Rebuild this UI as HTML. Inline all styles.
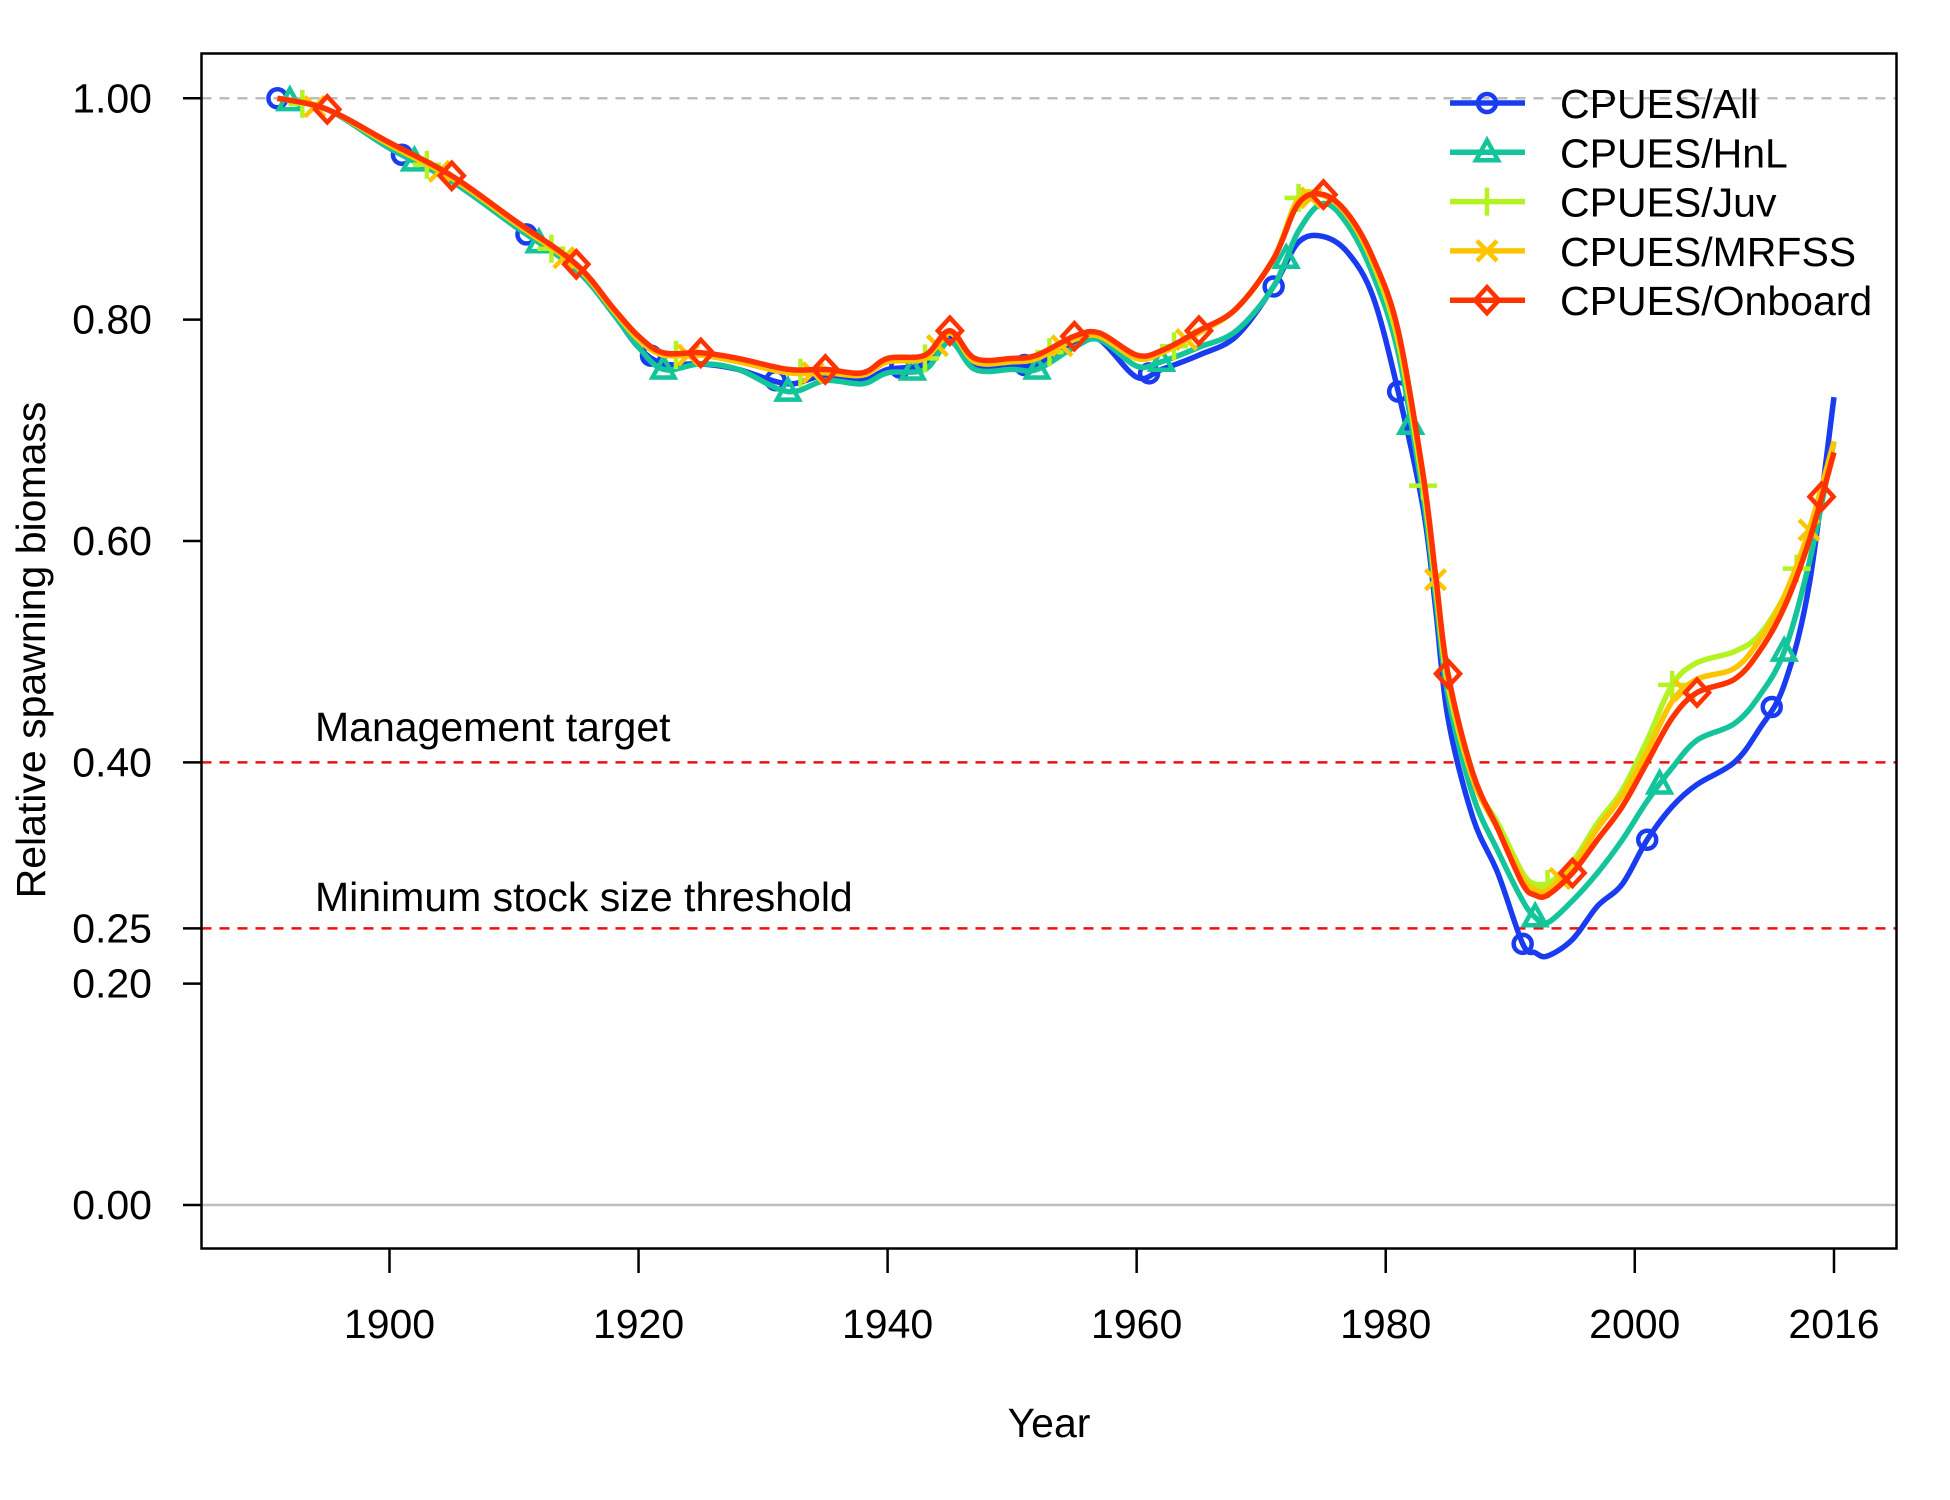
<!DOCTYPE html>
<html><head><meta charset="utf-8"><style>
html,body{margin:0;padding:0;background:#fff;}
svg{display:block;font-family:"Liberation Sans",Arial,sans-serif;}
</style></head><body>
<svg id="chart" width="1950" height="1500" viewBox="0 0 1950 1500" xmlns="http://www.w3.org/2000/svg">
<rect width="1950" height="1500" fill="#fff"/>
<g id="grid"></g>
<g id="series"></g>
<rect x="201.5" y="53.5" width="1695" height="1195" fill="none" stroke="#000" stroke-width="2.5"/>
<g id="axes"></g>
<text x="1049" y="1437" font-size="41" text-anchor="middle">Year</text>
<text transform="translate(45,650) rotate(-90)" font-size="41" text-anchor="middle">Relative spawning biomass</text>
<text x="315" y="741" font-size="41">Management target</text>
<text x="315" y="911" font-size="41">Minimum stock size threshold</text>
<g id="legend"></g>
</svg>
<script>
const years=[1891,1895,1900,1905,1910,1915,1918,1920,1922,1925,1928,1932,1935,1938,1940,1943,1945,1947,1950,1952,1955,1957,1960,1962,1965,1968,1971,1973,1975,1977,1979,1981,1983,1984,1985,1987,1989,1991,1992,1993,1995,1997,1999,2001,2003,2005,2008,2010,2012,2014,2016];
const seriesNames=["CPUES/All","CPUES/HnL","CPUES/Juv","CPUES/MRFSS","CPUES/Onboard"];
const valsAll=[1.0,.99,.955,.925,.885,.845,.805,.775,.76,.76,.755,.742,.75,.745,.755,.76,.785,.758,.758,.76,.78,.782,.748,.755,.768,.785,.83,.87,.875,.86,.82,.735,.63,.54,.44,.35,.30,.236,.228,.225,.24,.27,.29,.33,.36,.38,.40,.43,.47,.56,.73];
const valsHnL=[1.0,.99,.955,.925,.885,.845,.805,.775,.755,.76,.755,.735,.745,.742,.752,.755,.78,.755,.755,.755,.775,.782,.758,.762,.775,.79,.83,.88,.905,.885,.84,.77,.64,.55,.46,.37,.32,.275,.26,.255,.275,.30,.33,.365,.395,.42,.435,.46,.50,.58,.69];
const valsJuv=[1.0,.99,.958,.928,.888,.848,.808,.782,.768,.768,.762,.752,.752,.75,.762,.765,.788,.762,.762,.765,.782,.785,.765,.77,.788,.81,.855,.91,.912,.893,.85,.78,.65,.56,.47,.385,.345,.30,.29,.29,.31,.345,.375,.42,.47,.49,.50,.515,.55,.60,.69];
const valsMRFSS=[1.0,.99,.958,.928,.888,.848,.808,.782,.768,.768,.762,.752,.752,.75,.762,.765,.788,.762,.762,.765,.782,.785,.765,.77,.788,.81,.855,.908,.912,.893,.852,.785,.655,.565,.475,.385,.34,.295,.285,.285,.305,.34,.37,.41,.455,.475,.485,.51,.55,.61,.69];
const valsOnboard=[1.0,.99,.96,.93,.89,.85,.81,.785,.77,.77,.765,.755,.755,.752,.765,.768,.79,.765,.765,.768,.785,.788,.768,.772,.79,.81,.855,.905,.913,.895,.855,.79,.66,.57,.48,.39,.34,.29,.28,.28,.30,.33,.36,.40,.44,.463,.475,.50,.54,.60,.68];
const xTicks=[1900,1920,1940,1960,1980,2000,2016];
const yTicks=[0,0.2,0.25,0.4,0.6,0.8,1.0];
const yTickLabels=["0.00","0.20","0.25","0.40","0.60","0.80","1.00"];
const refLines=[0.4,0.25];

const NS="http://www.w3.org/2000/svg";
const X=y=>389.5+(y-1900)*(1834-389.5)/116;
const Y=v=>1205-v*(1205-98.3);
function mk(tag,attrs,parent){const e=document.createElementNS(NS,tag);for(const k in attrs)e.setAttribute(k,attrs[k]);parent.appendChild(e);return e;}
const grid=document.getElementById('grid'),axes=document.getElementById('axes'),sg=document.getElementById('series'),lg=document.getElementById('legend');

let l=mk('line',{x1:201.5,x2:1896.5,y1:Y(1),y2:Y(1),stroke:'#bdbdbd','stroke-width':2.5,'stroke-dasharray':'10,8'},grid);


l=mk('line',{x1:201.5,x2:1896.5,y1:Y(0),y2:Y(0),stroke:'#bdbdbd','stroke-width':2.5},grid);


refLines.forEach(r=>{const e=mk('line',{x1:201.5,x2:1896.5,y1:Y(r),y2:Y(r),stroke:'#ee1111','stroke-width':2.5,'stroke-dasharray':'10,8'},grid);

});

yTicks.forEach((t,i)=>{const g=mk('g',{},axes);


mk('line',{x1:183,x2:201.5,y1:Y(t),y2:Y(t),stroke:'#000','stroke-width':2.5},g);
const tx=mk('text',{x:152,y:Y(t)+14,'font-size':41,'text-anchor':'end'},g);tx.textContent=yTickLabels[i];});
xTicks.forEach(t=>{const g=mk('g',{},axes);


mk('line',{x1:X(t),x2:X(t),y1:1248.5,y2:1273,stroke:'#000','stroke-width':2.5},g);
const tx=mk('text',{x:X(t),y:1338,'font-size':41,'text-anchor':'middle'},g);tx.textContent=String(t);});

const colors=["#1a3cf0","#14c49a","#b4f222","#ffc400","#ff3300"];
const data=[valsAll,valsHnL,valsJuv,valsMRFSS,valsOnboard];
function smooth(pts){let d=`M${pts[0][0]},${pts[0][1]}`;for(let i=0;i<pts.length-1;i++){const p0=pts[Math.max(i-1,0)],p1=pts[i],p2=pts[i+1],p3=pts[Math.min(i+2,pts.length-1)];
const c1=[p1[0]+(p2[0]-p0[0])/6,p1[1]+(p2[1]-p0[1])/6],c2=[p2[0]-(p3[0]-p1[0])/6,p2[1]-(p3[1]-p1[1])/6];
d+=` C${c1[0].toFixed(1)},${c1[1].toFixed(1)} ${c2[0].toFixed(1)},${c2[1].toFixed(1)} ${p2[0].toFixed(1)},${p2[1].toFixed(1)}`;}return d;}
function interp(vals,yr){for(let i=0;i<years.length-1;i++){if(yr>=years[i]&&yr<=years[i+1]){const f=(yr-years[i])/(years[i+1]-years[i]);return vals[i]+f*(vals[i+1]-vals[i]);}}return vals[vals.length-1];}
function marker(type,x,y,c,parent){
 const a={fill:'none',stroke:c,'stroke-width':4.5};
 if(type===0) mk('circle',Object.assign({cx:x,cy:y,r:9},a),parent);
 else if(type===1) mk('polygon',Object.assign({points:`${x},${y-12} ${x+11},${y+8} ${x-11},${y+8}`},a),parent);
 else if(type===2) mk('path',Object.assign({d:`M${x-14},${y}H${x+14}M${x},${y-14}V${y+14}`},a),parent);
 else if(type===3) mk('path',Object.assign({d:`M${x-10},${y-10}L${x+10},${y+10}M${x-10},${y+10}L${x+10},${y-10}`},a),parent);
 else mk('polygon',Object.assign({points:`${x},${y-13} ${x+12},${y} ${x},${y+13} ${x-12},${y}`},a),parent);
}
data.forEach((vals,s)=>{const g=mk('g',{},sg);


const pts=years.map((y,i)=>[X(y),Y(vals[i])]);
mk('path',{d:smooth(pts),fill:'none',stroke:colors[s],'stroke-width':5.5,'stroke-linejoin':'round'},g);
for(let yr=1891+s;yr<=2016;yr+=10){marker(s,X(yr),Y(interp(vals,yr)),colors[s],g);}
});
seriesNames.forEach((n,s)=>{const g=mk('g',{},lg);


const y=103+s*49.3;
mk('line',{x1:1450,x2:1525,y1:y,y2:y,stroke:colors[s],'stroke-width':5.5},g);
marker(s,1487,y,colors[s],g);
const t=mk('text',{x:1560,y:y+15,'font-size':41},g);t.textContent=n;});
</script>
</body></html>
